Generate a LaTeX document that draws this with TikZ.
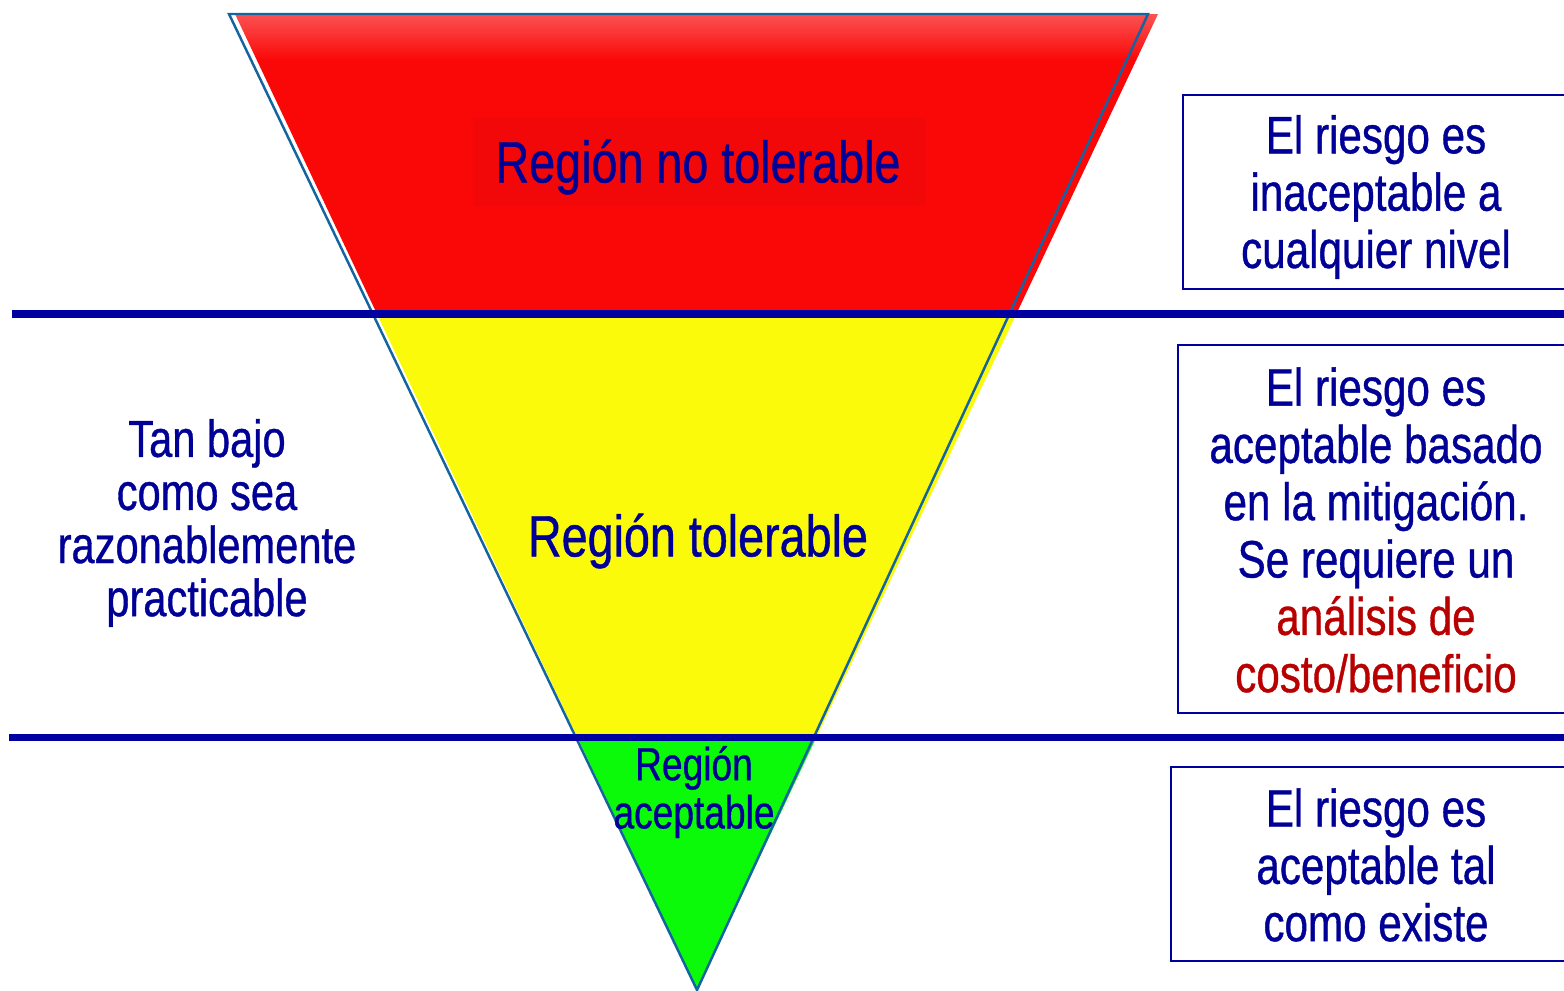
\documentclass[tikz,border=0pt]{standalone}
\usepackage{fontspec}
\newfontfamily\narrowsf{Liberation Sans}[FakeStretch=0.8,FakeBold=0.7]
\definecolor{riskblue}{RGB}{0,0,150}
\definecolor{lineblue}{RGB}{0,0,160}
\definecolor{edgeblue}{RGB}{20,100,160}
\definecolor{riskred}{RGB}{250,8,8}
\definecolor{riskyellow}{RGB}{250,250,10}
\definecolor{riskgreen}{RGB}{10,250,10}
\definecolor{costred}{RGB}{185,0,0}

\begin{document}
\begin{tikzpicture}[x=0.01cm,y=-0.01cm,
    txt/.style={font=\narrowsf, text=riskblue, align=center, inner sep=0pt},
    riskbox/.style={draw=lineblue, line width=0.6pt, minimum height=1.94cm},
    divline/.style={lineblue, line width=2pt}]
    \clip (0,0) rectangle (1564,990);
    \coordinate (tl) at (235,14);
    \coordinate (tr) at (1158,14);
    \coordinate (ap) at (697,990);
    % bands of the triangle
    \begin{scope}
        \clip (tl)--(tr)--(ap)--cycle;
        \shade[top color=riskred!70!white, bottom color=riskred] (0,14) rectangle (1564,60);
        \fill[riskred] (0,60) rectangle (1564,314);
        \fill[riskyellow] (0,314) rectangle (1564,737);
        \fill[riskgreen] (0,737) rectangle (1564,990);
    \end{scope}
    \draw[edgeblue, line width=0.7pt](229,14)--(1148,14)--(ap)--cycle;
    \draw[divline](12,314)--(1564,314);
    \draw[divline](9,737)--(1564,737);
    % labels in the triangle
    \node[fill=riskred!97!black, minimum width=4.51cm, minimum height=0.87cm] (notolbg) at (699,162) {};
    \node[txt, font=\narrowsf\fontsize{16.6}{18}\selectfont] (notol) at (698,167) {Región no tolerable};
    \node[txt, font=\narrowsf\fontsize{16.6}{18}\selectfont] (tol) at (698,541) {Región tolerable};
    \node[txt, font=\narrowsf\fontsize{13.2}{13.7}\selectfont] (acept) at (694,792) {Región\\aceptable};
    \node[txt, font=\narrowsf\fontsize{14.8}{15.1}\selectfont] (alarp) at (207,523) {Tan bajo\\como sea\\razonablemente\\practicable};
    % boxes on the right
    \node[riskbox, minimum width=3.86cm] (inacep) at (1376,192) {};
    \node[txt, font=\narrowsf\fontsize{15}{16.3}\selectfont] (inaceptxt) at (1376,197)
        {El riesgo es\\inaceptable a\\cualquier nivel};
    \node[riskbox, minimum width=3.96cm, minimum height=3.68cm] (mitig) at (1376,529) {};
    \node[txt, font=\narrowsf\fontsize{15}{16.3}\selectfont] (mitigtxt) at (1376,530)
        {El riesgo es\\aceptable basado\\en la mitigación.\\Se requiere un\\\textcolor{costred}{análisis de}\\\textcolor{costred}{costo/beneficio}};
    \node[riskbox, minimum width=4.10cm] (tal) at (1376,864) {};
    \node[txt, font=\narrowsf\fontsize{15}{16.3}\selectfont] (taltxt) at (1376,865)
        {El riesgo es\\aceptable tal\\como existe};
\end{tikzpicture}
\end{document}
